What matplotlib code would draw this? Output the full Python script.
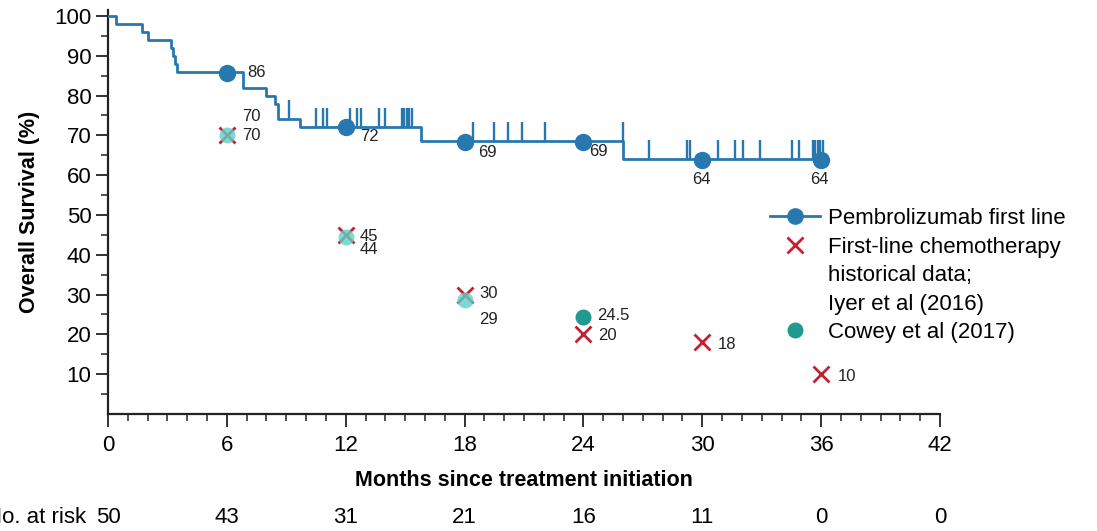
import numpy as np
import matplotlib
matplotlib.use('Agg')
import matplotlib.pyplot as plt
import matplotlib.transforms as mtransforms
from matplotlib.lines import Line2D

plt.rcParams['font.family'] = ['Liberation Sans', 'DejaVu Sans']

# Kaplan-Meier steps (month, survival %)
km_t = [0, 0.4, 1.7, 2.0, 3.2, 3.3, 3.4, 3.5, 6.8, 8.0, 8.45, 8.6, 9.7, 15.8, 26.0, 36.1]
km_s = [100, 98, 96, 94, 92, 90, 88, 86, 82, 80, 78, 74, 72, 68.6, 64.1, 64.1]

# censored patients (months)
censor_t = [9.15, 10.5, 10.87, 11.07, 12.2, 12.56, 12.76, 13.7, 14.0, 14.83, 14.95,
            15.09, 15.2, 15.34, 18.42, 19.49, 20.19, 20.89, 22.04, 25.98, 27.29,
            29.23, 29.36, 30.77, 31.67, 32.05, 32.9, 34.53, 34.87, 35.59, 35.71,
            35.83, 35.96, 36.1]

# landmark points
months = [6, 12, 18, 24, 30, 36]
pembro = [85.7, 72, 68.4, 68.4, 63.7, 63.7]
pembro_lbl = ['86', '72', '69', '69', '64', '64']
chemo = [70, 45, 30, 20, 18, 10]
chemo_lbl = ['70', '45', '30', '20', '18', '10']
cowey_m = [6, 12, 18, 24]
cowey = [70, 44.5, 28.7, 24.3]
cowey_lbl = ['70', '44', '29', '24.5']

risk_m = [0, 6, 12, 18, 24, 30, 36, 42]
at_risk = [50, 43, 31, 21, 16, 11, 0, 0]

BLUE = '#2878b0'
RED = '#c42033'
TEAL = '#1f9a8e'
LTEAL = '#5fd0c9'
INK = '#222222'

fig = plt.figure(figsize=(10.97, 5.31), dpi=100)
ax = fig.add_axes([108 / 1097, 117 / 531, 832 / 1097, 404 / 531])

# KM curve
ax.step(km_t, km_s, where='post', color=BLUE, lw=2, zorder=3)
idx = np.searchsorted(km_t, censor_t, side='right') - 1
c_lvl = np.array(km_s)[idx]
ax.vlines(censor_t, c_lvl, c_lvl + 4.8, color=BLUE, lw=1.7, zorder=3)
ax.plot(months, pembro, 'o', color=BLUE, ms=11.5, zorder=4)

# chemo and Cowey
ax.plot(months, chemo, 'x', color=RED, ms=11, mew=2, zorder=5)
for m, v in zip(cowey_m, cowey):
    light = m in months[:3]
    ax.plot(m, v, 'o', color=LTEAL if light else TEAL, alpha=0.8 if light else 1.0,
            ms=11.5, mec='none', zorder=6)

# value labels
p_off = [(20, 0, 'left'), (14, -9, 'left'), (14, -11, 'left'), (6, -10, 'left'),
         (-1, -19, 'center'), (-2, -19, 'center')]
for m, v, s, (dx, dy, ha) in zip(months, pembro, pembro_lbl, p_off):
    ax.annotate(s, (m, v), xytext=(dx, dy), textcoords='offset pixels',
                ha=ha, va='center', fontsize=12, color=INK)
c_off = [(15, 0), (14, -2), (15, 1), (15, -1), (15, -2), (17, -2)]
for m, v, s, (dx, dy) in zip(months, chemo, chemo_lbl, c_off):
    ax.annotate(s, (m, v), xytext=(dx, dy), textcoords='offset pixels',
                ha='left', va='center', fontsize=12, color=INK)
w_off = [(15, 19), (14, -13), (15, -20), (14, 2)]
for m, v, s, (dx, dy) in zip(cowey_m, cowey, cowey_lbl, w_off):
    ax.annotate(s, (m, v), xytext=(dx, dy), textcoords='offset pixels',
                ha='left', va='center', fontsize=12, color=INK)

# axes styling
ax.set_xlim(0, 42)
ax.set_ylim(0, 101.5)
for sp in ['top', 'right']:
    ax.spines[sp].set_visible(False)
for sp in ['left', 'bottom']:
    ax.spines[sp].set_linewidth(1.6)
    ax.spines[sp].set_color(INK)
ax.set_xticks(np.arange(0, 43, 6))
ax.set_xticks(np.arange(0, 43, 1), minor=True)
ax.set_yticks(np.arange(10, 101, 10))
ax.set_yticks(np.arange(5, 101, 5), minor=True)
ax.tick_params(which='major', length=9, width=1.3, color=INK)
ax.tick_params(which='minor', length=5, width=1.1, color=INK)
ax.tick_params(axis='y', labelsize=16, pad=3)
ax.tick_params(axis='x', labelsize=16, pad=6)

ax.set_xlabel('Months since treatment initiation', fontweight='bold',
              fontsize=15.5, labelpad=10)
ax.set_ylabel('Overall Survival (%)', fontweight='bold', fontsize=15.5,
              labelpad=10)

# number at risk row (label runs off the left edge, as in the source figure)
tr = mtransforms.blended_transform_factory(ax.transData, fig.transFigure)
for m, n in zip(risk_m, at_risk):
    ax.text(m, 0.026, str(n), transform=tr, ha='center', va='center',
            fontsize=16, clip_on=False)
ax.annotate('No. at risk', (0, 0.026), xycoords=tr, xytext=(-22, 0),
            textcoords='offset pixels', ha='right', va='center',
            fontsize=16, annotation_clip=False)

# legend
h1 = Line2D([], [], ls='-', marker='o', color=BLUE, lw=2, ms=11)
h2 = Line2D([], [], ls='none', marker='x', color=RED, ms=11, mew=2)
h3 = Line2D([], [], ls='none', marker='o', color=TEAL, ms=11.5, mec='none')
blank = Line2D([], [], ls='none', marker='none')
leg = ax.legend([h1, h2, blank, blank, h3],
                ['Pembrolizumab first line', 'First-line chemotherapy',
                 'historical data;', 'Iyer et al (2016)', 'Cowey et al (2017)'],
                loc='upper left', bbox_to_anchor=(0.7957, 0.51), frameon=False,
                fontsize=16, handlelength=2.25, handletextpad=0.36,
                labelspacing=0.34, borderaxespad=0, borderpad=0)

fig.savefig('out.png', dpi=100)
